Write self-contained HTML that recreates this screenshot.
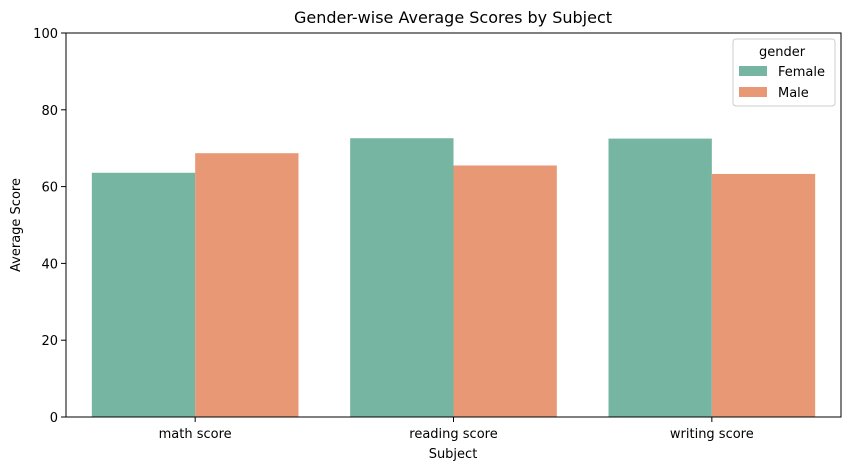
<!DOCTYPE html>
<html><head><meta charset="utf-8"><style>
body{margin:0;background:#fff;font-family:"Liberation Sans","DejaVu Sans",sans-serif}
</style></head><body>
<svg id="chart" width="850" height="470" xmlns="http://www.w3.org/2000/svg" font-family="DejaVu Sans, Liberation Sans, sans-serif">
<text x="453" y="23" text-anchor="middle" font-size="16" fill="#000">Gender-wise Average Scores by Subject</text>
<g id="bars"></g>
<g id="axes"></g>
<text x="453" y="458" text-anchor="middle" font-size="13">Subject</text>
<text transform="translate(20,225) rotate(-90)" text-anchor="middle" font-size="13">Average Score</text>
<g>
<rect x="733" y="39" width="102" height="67" rx="3" fill="#fff" stroke="#ccc"/>
<text x="782" y="56" text-anchor="middle" font-size="13">gender</text>
<rect x="739" y="66" width="28" height="10" fill="#75b5a1"/>
<text x="778" y="76" font-size="13">Female</text>
<rect x="739" y="87" width="28" height="10" fill="#e89875"/>
<text x="778" y="97" font-size="13">Male</text>
</g>
</svg>
<script>
const categories=["math score","reading score","writing score"];
const female=[63.6,72.6,72.5];
const male=[68.7,65.5,63.3];
const yTicks=[0,20,40,60,80,100];
const L=66,R=841,T=33,B=417;
const NS="http://www.w3.org/2000/svg";
const y=v=>B-(v/100)*(B-T);
const band=(R-L)/categories.length;
const xc=i=>L+band*(i+0.5);
const bw=band*0.8/2;
const bars=document.getElementById('bars'),axes=document.getElementById('axes');
function mk(tag,attrs,parent){const e=document.createElementNS(NS,tag);for(const k in attrs)e.setAttribute(k,attrs[k]);parent.appendChild(e);return e;}
categories.forEach((c,i)=>{
 const f=mk('rect',{x:xc(i)-bw,y:y(female[i]),width:bw,height:B-y(female[i]),fill:'#75b5a1'},bars);
 
 
 const m=mk('rect',{x:xc(i),y:y(male[i]),width:bw,height:B-y(male[i]),fill:'#e89875'},bars);
 
 
 mk('line',{x1:xc(i),x2:xc(i),y1:B,y2:B+5,stroke:'#000'},axes);
 const t=mk('text',{x:xc(i),y:B+21,'text-anchor':'middle','font-size':13},axes);
 t.textContent=c;
 
 
});
yTicks.forEach(v=>{
 mk('line',{x1:L-5,x2:L,y1:y(v),y2:y(v),stroke:'#000'},axes);
 const t=mk('text',{x:L-8,y:y(v)+5,'text-anchor':'end','font-size':13},axes);
 t.textContent=v;
 
 
});
const fr=mk('rect',{x:L,y:T,width:R-L,height:B-T,fill:'none',stroke:'#000','stroke-width':1},axes);


</script>
</body></html>
